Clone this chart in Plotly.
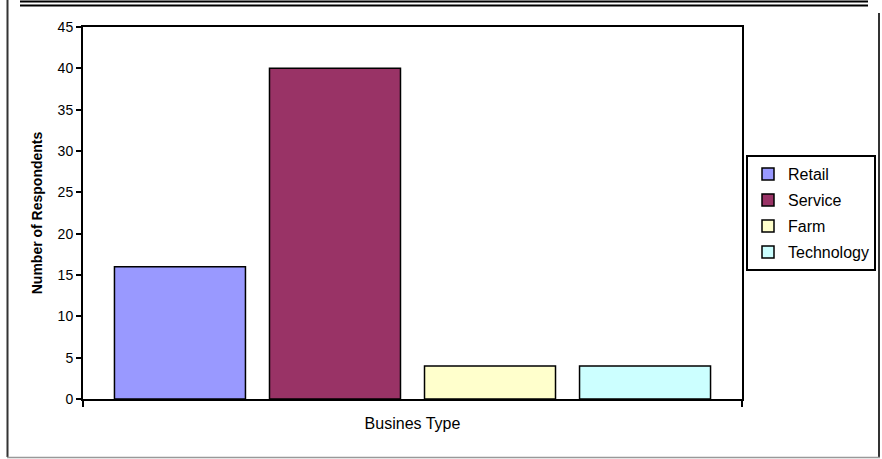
import plotly.graph_objects as go

series_names = ["Retail", "Service", "Farm", "Technology"]
series_values = [16, 40, 4, 4]
series_colors = ["#9999FF", "#993366", "#FFFFCC", "#CCFFFF"]
group_label = ["Busines Type"]
y_ticks = [0, 5, 10, 15, 20, 25, 30, 35, 40, 45]

W, H = 882, 459
L, R, T, B = 83, 742, 27, 399
pw, ph = R - L, B - T

def px(x):
    return (x - L) / pw

def py(y):
    return (B - y) / ph

fig = go.Figure()
for name, val, col in zip(series_names, series_values, series_colors):
    fig.add_trace(go.Bar(
        x=group_label, y=[val], name=name, legendgroup=name,
        marker=dict(color=col, line=dict(color="black", width=1.5)),
    ))

font = "Liberation Sans, Arial, sans-serif"
shapes = []
frame = dict(xref="paper", yref="paper", type="line", layer="above")
# top double line
shapes.append(dict(frame, x0=px(20), x1=px(868), y0=py(1.5), y1=py(1.5), line=dict(color="black", width=2)))
shapes.append(dict(frame, x0=px(20), x1=px(868), y0=py(5.5), y1=py(5.5), line=dict(color="black", width=2)))
# left vertical
shapes.append(dict(frame, x0=px(7.5), x1=px(7.5), y0=py(0), y1=py(457), line=dict(color="#333333", width=2)))
# right vertical
shapes.append(dict(frame, x0=px(879), x1=px(879), y0=py(13), y1=py(457), line=dict(color="#333333", width=2)))
# bottom
shapes.append(dict(frame, x0=px(7), x1=px(880), y0=py(457.5), y1=py(457.5), line=dict(color="#999999", width=1.5)))

fig.update_layout(
    width=W, height=H,
    margin=dict(l=L, r=W - R, t=T, b=H - B, pad=0, autoexpand=False),
    paper_bgcolor="white", plot_bgcolor="white",
    font=dict(family=font, size=14, color="black"),
    barmode="group", bargap=0.059, bargroupgap=0.155,
    showlegend=True,
    legend=dict(
        x=px(746), y=py(155), xanchor="left", yanchor="top",
        bordercolor="black", borderwidth=2, bgcolor="white",
        font=dict(family=font, size=16, color="black"),
        traceorder="grouped", tracegroupgap=2.2,
        itemwidth=30,
    ),
    xaxis=dict(
        type="category", showticklabels=False, automargin=False,
        showline=True, linecolor="black", linewidth=2, mirror=True,
        ticks="outside", tickson="boundaries", ticklen=6, tickwidth=2, tickcolor="black",
        showgrid=False, zeroline=False,
        title=dict(text="Busines Type", font=dict(family=font, size=16), standoff=18),
    ),
    yaxis=dict(
        range=[0, 45], tickvals=y_ticks, automargin=False,
        showline=True, linecolor="black", linewidth=2, mirror=True,
        ticks="outside", ticklen=5, tickwidth=2, tickcolor="black",
        showgrid=False, zeroline=False,
        tickfont=dict(family=font, size=14),
        title=dict(text="<b>Number of Respondents</b>", font=dict(family=font, size=14), standoff=12),
    ),
    shapes=shapes,
)

fig.write_html(
    "out.html",
    config={"displayModeBar": False},
    post_script="document.body.style.margin='0';document.body.style.padding='0';",
)
